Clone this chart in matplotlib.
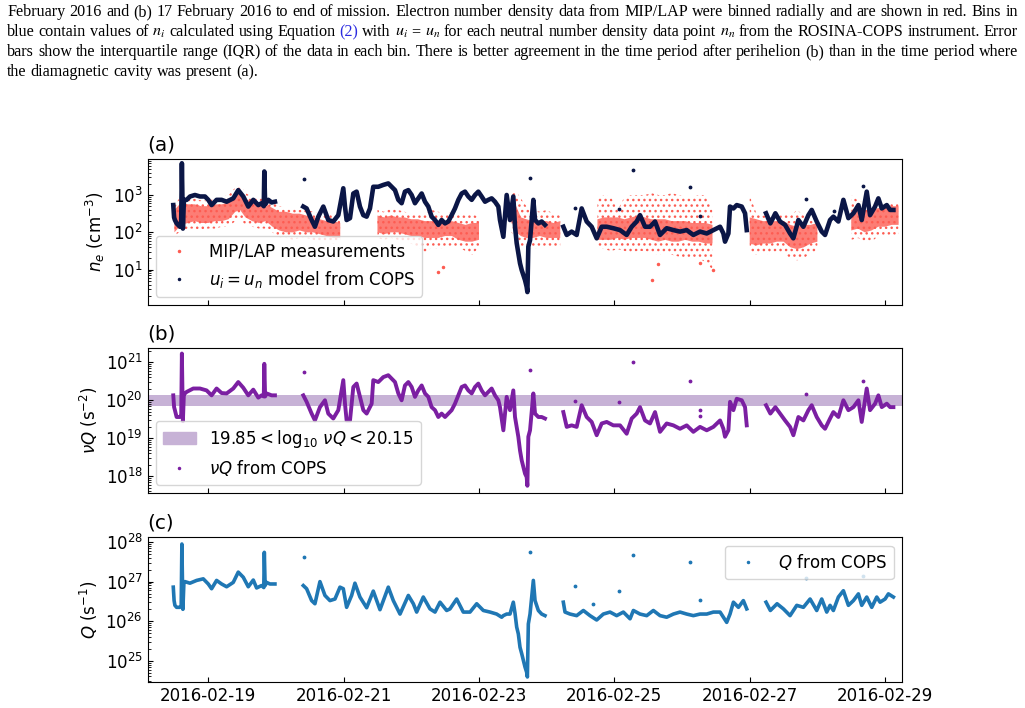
import numpy as np
import matplotlib
matplotlib.use("Agg")
import matplotlib.pyplot as plt
import matplotlib.dates as mdates
import matplotlib.ticker as mticker
from matplotlib.lines import Line2D
from matplotlib.patches import Patch

nan = np.nan

# time axis: days since 2016-02-19 00:00, values are log10 of the plotted quantity
# ---- (a) u_i = u_n model from COPS (cm^-3)
ne_t = [-0.517, -0.505, -0.493, -0.468, -0.42, -0.40, -0.39, -0.375, -0.36, -0.32,
        -0.27, -0.197, -0.123, -0.049, 0.0, 0.049, 0.123, 0.197, 0.271, 0.369,
        0.443, 0.517, 0.591, 0.665, 0.739, 0.788, 0.82, 0.828, 0.84, 0.887,
        0.936, 0.985, 1.2,
        1.404, 1.453, 1.527, 1.576, 1.626, 1.700, 1.773, 1.847, 1.921, 1.995,
        2.020, 2.044, 2.094, 2.143, 2.192, 2.241, 2.291, 2.340, 2.389, 2.438,
        2.512, 2.586, 2.660, 2.709, 2.759, 2.808, 2.857, 2.906, 2.956, 3.005,
        3.054, 3.103, 3.153, 3.202, 3.251, 3.300, 3.350, 3.399, 3.448, 3.498,
        3.547, 3.596, 3.645, 3.695, 3.744, 3.793, 3.842, 3.892, 3.941, 3.990,
        4.039, 4.089, 4.138, 4.187, 4.236, 4.286, 4.310, 4.360, 4.409, 4.458,
        4.507, 4.532, 4.557, 4.581, 4.606, 4.631, 4.655, 4.680, 4.704, 4.715,
        4.729, 4.754, 4.803, 4.828, 4.877, 4.926, 4.975, 5.1,
        5.246, 5.296, 5.369, 5.443, 5.517, 5.591, 5.665, 5.739, 5.813, 5.887,
        5.985, 6.084, 6.182, 6.256, 6.330, 6.379, 6.453, 6.527, 6.601, 6.675,
        6.773, 6.872, 6.970, 7.069, 7.167, 7.266, 7.365, 7.463, 7.562, 7.611,
        7.635, 7.685, 7.709, 7.759, 7.808, 7.882, 7.931, 7.956, 8.1,
        8.241, 8.305, 8.379, 8.448, 8.522, 8.596, 8.645, 8.719, 8.793, 8.867,
        8.916, 8.990, 9.064, 9.113, 9.187, 9.236, 9.310, 9.384, 9.458, 9.532,
        9.606, 9.655, 9.729, 9.778, 9.852, 9.901, 9.951, 10.025, 10.074, 10.123]
ne_log = [2.73, 2.40, 2.33, 2.24, 2.15, 2.30, 3.85, 2.10, 2.87, 2.87,
          2.96, 3.00, 2.96, 2.96, 2.87, 2.73, 2.87, 2.87, 2.82, 2.91,
          3.13, 2.96, 2.69, 2.87, 2.73, 2.78, 2.70, 3.63, 2.75, 2.87,
          2.80, 2.82, nan,
          2.69, 2.64, 2.33, 2.15, 2.42, 2.69, 2.33, 2.29, 2.46, 3.18,
          2.69, 2.33, 2.38, 3.04, 3.09, 2.69, 2.46, 2.42, 2.64, 3.22,
          3.22, 3.27, 3.31, 3.22, 3.13, 2.87, 2.78, 3.09, 3.13, 3.00,
          2.78, 2.91, 3.04, 2.82, 2.69, 2.42, 2.33, 2.20, 2.33, 2.24,
          2.29, 2.46, 2.64, 2.87, 3.04, 3.09, 2.96, 2.87, 3.00, 3.09,
          2.96, 2.82, 2.87, 2.91, 2.82, 2.69, 2.33, 1.88, 3.00, 2.33,
          2.96, 2.15, 1.71, 1.44, 1.17, 0.99, 0.86, 0.72, 0.54, 0.40,
          1.62, 1.79, 2.87, 2.33, 2.24, 2.29, 2.20, nan,
          2.15, 1.93, 2.02, 1.93, 2.64, 2.29, 2.15, 1.84, 2.15, 2.15,
          2.11, 2.06, 1.93, 2.15, 2.29, 2.46, 2.15, 2.15, 2.29, 1.93,
          2.11, 2.06, 2.02, 2.06, 1.93, 2.02, 1.97, 2.06, 2.15, 1.97,
          1.75, 1.97, 2.69, 2.64, 2.73, 2.69, 2.51, 2.06, nan,
          2.51, 2.24, 2.51, 2.29, 2.20, 1.97, 1.84, 2.33, 2.15, 2.46,
          2.60, 2.29, 2.02, 1.93, 2.33, 2.42, 2.29, 2.87, 2.38, 2.51,
          2.73, 2.33, 3.09, 2.46, 2.69, 2.91, 2.64, 2.73, 2.60, 2.60]
ne_out_t = [1.42, 4.76, 6.27, 7.12, 5.42, 6.07, 7.26, 8.83, 9.67, 9.25]
ne_out_log = [3.42, 3.46, 3.68, 3.21, 2.64, 2.62, 2.45, 2.89, 3.24, 2.57]

# ---- (a) MIP/LAP measurements: per time bin, dense core range and full spread
lap_t = [-0.50, -0.40, -0.30, -0.20, -0.10, 0.0, 0.10, 0.20, 0.30, 0.40,
         0.47, 0.55, 0.65, 0.75, 0.85, 0.95, 1.05, 1.15, 1.25, 1.35,
         1.45, 1.55, 1.65, 1.75, 1.85, 1.95, 2.2,
         2.50, 2.60, 2.70, 2.80, 2.90, 3.00, 3.10, 3.20, 3.30, 3.40,
         3.50, 3.60, 3.70, 3.80, 3.90, 4.00, 4.2,
         4.48, 4.55, 4.62, 4.70, 4.80, 4.90, 5.00, 5.10, 5.20, 5.45,
         5.75, 5.85, 5.95, 6.05, 6.15, 6.25, 6.35, 6.45, 6.55, 6.65,
         6.75, 6.85, 6.95, 7.05, 7.15, 7.25, 7.35, 7.45, 7.7,
         8.00, 8.10, 8.20, 8.30, 8.40, 8.50, 8.60, 8.70, 8.80, 8.90,
         9.00, 9.25,
         9.50, 9.60, 9.70, 9.80, 9.90, 10.00, 10.10, 10.20]
lap_lo = [2.00, 2.20, 2.25, 2.30, 2.25, 2.25, 2.30, 2.30, 2.35, 2.55,
          2.60, 2.40, 2.30, 2.25, 2.30, 2.15, 2.05, 2.00, 2.00, 2.05,
          2.00, 2.00, 1.95, 1.90, 1.85, 1.85, nan,
          2.00, 1.95, 2.00, 2.00, 1.95, 1.90, 1.90, 1.85, 1.85, 1.85,
          1.90, 1.90, 1.80, 1.75, 1.75, 1.80, nan,
          2.30, 2.00, 1.90, 1.85, 1.85, 1.90, 1.85, 1.85, 1.85, nan,
          1.80, 1.80, 1.80, 1.85, 1.80, 1.85, 1.85, 1.85, 1.80, 1.75,
          1.80, 1.75, 1.75, 1.80, 1.75, 1.75, 1.70, 1.70, nan,
          1.70, 1.65, 1.70, 1.70, 1.75, 1.75, 1.60, 1.55, 1.60, 1.70,
          1.75, nan,
          2.05, 2.10, 2.00, 2.05, 2.15, 2.15, 2.20, 2.20]
lap_hi = [2.60, 2.80, 2.75, 2.75, 2.70, 2.70, 2.75, 2.75, 2.80, 3.05,
          3.15, 2.90, 2.80, 2.80, 2.75, 2.65, 2.55, 2.55, 2.50, 2.50,
          2.45, 2.40, 2.35, 2.30, 2.30, 2.25, nan,
          2.45, 2.40, 2.45, 2.40, 2.40, 2.35, 2.35, 2.30, 2.30, 2.30,
          2.30, 2.30, 2.25, 2.20, 2.25, 2.25, nan,
          2.90, 2.70, 2.40, 2.35, 2.30, 2.30, 2.30, 2.25, 2.30, nan,
          2.35, 2.40, 2.40, 2.40, 2.35, 2.40, 2.45, 2.40, 2.35, 2.35,
          2.35, 2.30, 2.30, 2.30, 2.25, 2.25, 2.25, 2.20, nan,
          2.40, 2.35, 2.30, 2.30, 2.30, 2.30, 2.20, 2.15, 2.20, 2.20,
          2.25, nan,
          2.60, 2.65, 2.60, 2.60, 2.65, 2.65, 2.70, 2.70]
lap_min = [1.90, 2.05, 2.10, 2.10, 2.05, 2.10, 2.10, 2.15, 2.15, 2.30,
           2.35, 2.20, 2.15, 2.10, 2.10, 2.00, 1.85, 1.85, 1.80, 1.85,
           1.85, 1.80, 1.75, 1.75, 1.70, 1.75, nan,
           1.85, 1.80, 1.85, 1.80, 1.75, 1.70, 1.60, 1.45, 1.60, 1.55,
           1.60, 1.65, 1.60, 1.50, 1.40, 1.60, nan,
           2.00, 1.80, 1.60, 1.60, 1.55, 1.60, 1.65, 1.60, 1.60, nan,
           1.60, 1.55, 1.50, 1.55, 1.50, 1.45, 1.50, 1.50, 1.45, 1.40,
           1.45, 1.40, 1.35, 1.30, 1.35, 1.30, 1.20, 1.00, nan,
           1.50, 1.40, 1.45, 1.40, 1.50, 1.45, 1.30, 1.25, 1.30, 1.45,
           1.50, nan,
           1.80, 1.85, 1.75, 1.75, 1.90, 1.90, 1.95, 1.90]
lap_max = [2.70, 3.00, 2.95, 2.90, 2.85, 2.85, 2.90, 2.95, 3.00, 3.20,
           3.27, 3.05, 2.95, 2.95, 2.90, 2.80, 2.70, 2.65, 2.65, 2.60,
           2.60, 2.55, 2.50, 2.50, 2.45, 2.40, nan,
           2.60, 2.55, 2.65, 2.60, 2.55, 2.50, 2.50, 2.50, 2.60, 2.55,
           2.50, 2.55, 2.50, 2.45, 2.50, 2.40, nan,
           3.10, 3.10, 2.90, 2.70, 2.60, 2.55, 2.60, 2.50, 2.45, nan,
           2.90, 3.00, 2.95, 2.60, 2.95, 3.00, 3.00, 3.00, 3.05, 3.00,
           3.00, 3.05, 3.00, 2.95, 2.95, 3.00, 3.00, 2.65, nan,
           3.00, 2.50, 2.45, 2.40, 2.40, 2.50, 2.45, 2.60, 2.45, 2.40,
           2.40, nan,
           3.00, 2.85, 2.80, 2.75, 2.80, 2.75, 2.80, 2.75]
lap_out_t = [3.40, 3.47, 6.55, 6.64, 7.27, 7.46]
lap_out_log = [0.95, 1.08, 0.72, 1.14, 1.17, 0.99]

# ---- (b) nu*Q from COPS (s^-2)
nuq_t = [-0.517, -0.505, -0.493, -0.468, -0.42, -0.40, -0.39, -0.375, -0.36, -0.345,
         -0.320, -0.222, -0.123, -0.025, 0.049, 0.123, 0.197, 0.271, 0.369, 0.443,
         0.517, 0.591, 0.665, 0.739, 0.788, 0.82, 0.828, 0.84, 0.862, 0.936,
         0.985, 1.2,
         1.404, 1.453, 1.527, 1.576, 1.650, 1.724, 1.773, 1.847, 1.921, 1.995,
         2.020, 2.044, 2.094, 2.143, 2.192, 2.241, 2.291, 2.340, 2.414, 2.438,
         2.512, 2.586, 2.660, 2.709, 2.759, 2.808, 2.857, 2.906, 2.956, 3.005,
         3.054, 3.103, 3.153, 3.202, 3.251, 3.300, 3.350, 3.399, 3.448, 3.498,
         3.547, 3.596, 3.645, 3.695, 3.744, 3.793, 3.842, 3.892, 3.941, 3.990,
         4.039, 4.089, 4.138, 4.187, 4.236, 4.286, 4.310, 4.360, 4.409, 4.458,
         4.507, 4.532, 4.557, 4.581, 4.606, 4.631, 4.655, 4.680, 4.704, 4.715,
         4.729, 4.754, 4.803, 4.828, 4.877, 4.926, 4.975, 5.1,
         5.246, 5.296, 5.369, 5.443, 5.517, 5.591, 5.665, 5.739, 5.813, 5.887,
         5.985, 6.084, 6.182, 6.256, 6.330, 6.379, 6.453, 6.527, 6.601, 6.675,
         6.773, 6.872, 6.970, 7.069, 7.167, 7.266, 7.365, 7.463, 7.562, 7.611,
         7.635, 7.685, 7.709, 7.759, 7.808, 7.882, 7.931, 7.956, 8.1,
         8.241, 8.305, 8.379, 8.448, 8.522, 8.596, 8.645, 8.719, 8.793, 8.867,
         8.916, 8.990, 9.064, 9.113, 9.187, 9.236, 9.310, 9.384, 9.458, 9.532,
         9.606, 9.655, 9.729, 9.778, 9.852, 9.901, 9.951, 10.025, 10.074, 10.123]
nuq_log = [20.13, 19.82, 19.74, 19.56, 19.56, 19.60, 21.23, 19.45, 20.18, 20.18,
           20.22, 20.31, 20.31, 20.26, 20.13, 20.31, 20.19, 20.18, 20.31, 20.48,
           20.33, 20.13, 20.28, 20.07, 20.13, 20.10, 20.96, 20.10, 20.18, 20.13,
           20.13, nan,
           20.13, 19.96, 19.65, 19.47, 19.82, 20.00, 19.65, 19.52, 19.74, 20.53,
           19.91, 19.47, 19.47, 20.35, 20.44, 20.09, 19.74, 19.65, 19.91, 20.53,
           20.48, 20.61, 20.66, 20.57, 20.48, 20.18, 20.00, 20.39, 20.48, 20.35,
           20.09, 20.26, 20.39, 20.18, 20.09, 19.82, 19.74, 19.56, 19.65, 19.56,
           19.65, 19.74, 19.91, 20.13, 20.35, 20.39, 20.26, 20.18, 20.35, 20.44,
           20.26, 20.13, 20.22, 20.31, 20.13, 20.00, 19.82, 19.21, 20.09, 19.74,
           20.26, 19.56, 19.30, 19.04, 18.68, 18.42, 18.25, 18.07, 17.98, 17.75,
           19.04, 19.21, 20.18, 19.65, 19.56, 19.56, 19.52, nan,
           19.69, 19.30, 19.34, 19.30, 19.87, 19.56, 19.43, 19.08, 19.39, 19.43,
           19.34, 19.34, 19.12, 19.52, 19.65, 19.82, 19.47, 19.39, 19.69, 19.17,
           19.39, 19.34, 19.25, 19.34, 19.17, 19.30, 19.21, 19.30, 19.47, 19.25,
           19.04, 19.21, 19.96, 19.74, 20.04, 20.00, 19.82, 19.34, nan,
           19.87, 19.65, 19.82, 19.65, 19.47, 19.30, 19.08, 19.56, 19.47, 19.74,
           19.87, 19.56, 19.34, 19.25, 19.52, 19.69, 19.56, 20.00, 19.74, 19.82,
           20.00, 19.43, 20.31, 19.74, 19.91, 20.13, 19.82, 19.91, 19.82, 19.82]
nuq_out_t = [1.42, 4.76, 6.27, 7.12, 5.42, 6.07, 7.26, 7.26, 8.83, 9.67]
nuq_out_log = [20.75, 20.81, 21.01, 20.52, 19.97, 19.96, 19.74, 19.58, 20.16, 20.50]
band_lo, band_hi = 19.85, 20.15

# ---- (c) Q from COPS (s^-1)
q_t = [-0.517, -0.505, -0.493, -0.468, -0.42, -0.40, -0.39, -0.375, -0.36, -0.345,
       -0.271, -0.172, -0.074, 0.0, 0.049, 0.123, 0.197, 0.271, 0.369, 0.443,
       0.517, 0.591, 0.665, 0.714, 0.788, 0.82, 0.828, 0.84, 0.862, 0.911,
       0.985, 1.2,
       1.404, 1.453, 1.527, 1.576, 1.650, 1.724, 1.798, 1.872, 1.946, 1.995,
       2.044, 2.118, 2.167, 2.241, 2.340, 2.438, 2.537, 2.660, 2.734, 2.833,
       2.956, 3.030, 3.079, 3.177, 3.276, 3.350, 3.424, 3.522, 3.571, 3.670,
       3.768, 3.867, 3.966, 4.064, 4.163, 4.261, 4.335, 4.360, 4.409, 4.458,
       4.507, 4.532, 4.557, 4.581, 4.606, 4.631, 4.655, 4.680, 4.704, 4.715,
       4.729, 4.754, 4.803, 4.828, 4.877, 4.926, 4.975, 5.1,
       5.246, 5.271, 5.345, 5.443, 5.542, 5.640, 5.739, 5.837, 5.936, 6.034,
       6.133, 6.232, 6.281, 6.379, 6.478, 6.576, 6.675, 6.773, 6.872, 6.970,
       7.069, 7.167, 7.266, 7.365, 7.463, 7.562, 7.611, 7.660, 7.709, 7.759,
       7.833, 7.906, 7.956, 8.1,
       8.241, 8.305, 8.404, 8.498, 8.596, 8.695, 8.793, 8.892, 8.990, 9.064,
       9.138, 9.187, 9.236, 9.310, 9.384, 9.458, 9.532, 9.606, 9.655, 9.729,
       9.803, 9.877, 9.926, 10.0, 10.049, 10.123]
q_log = [26.86, 26.52, 26.40, 26.35, 26.35, 26.40, 27.95, 26.30, 26.98, 27.00,
         26.96, 27.03, 27.07, 26.94, 26.82, 27.03, 26.94, 26.87, 26.98, 27.24,
         27.11, 26.87, 27.04, 26.84, 26.90, 26.85, 27.74, 26.90, 26.98, 26.94,
         26.94, nan,
         26.90, 26.82, 26.52, 26.44, 27.00, 26.65, 26.52, 26.56, 26.86, 26.82,
         26.35, 26.65, 26.96, 26.61, 26.34, 26.76, 26.29, 26.86, 26.52, 26.18,
         26.65, 26.44, 26.23, 26.61, 26.31, 26.23, 26.48, 26.27, 26.31, 26.56,
         26.23, 26.23, 26.44, 26.27, 26.23, 26.18, 26.10, 26.14, 26.18, 26.18,
         26.48, 26.20, 25.85, 25.68, 25.34, 25.18, 25.01, 24.84, 24.71, 24.59,
         25.93, 26.18, 27.03, 26.52, 26.27, 26.18, 26.14, nan,
         26.48, 26.23, 26.18, 26.14, 26.27, 26.14, 26.03, 26.18, 26.23, 26.14,
         26.23, 26.06, 26.27, 26.18, 26.14, 26.27, 26.14, 26.10, 26.18, 26.23,
         26.18, 26.14, 26.18, 26.18, 26.23, 26.23, 26.10, 25.97, 26.18, 26.48,
         26.35, 26.52, 26.31, nan,
         26.48, 26.27, 26.44, 26.31, 26.14, 26.40, 26.35, 26.56, 26.27, 26.56,
         26.23, 26.40, 26.27, 26.61, 26.77, 26.40, 26.52, 26.69, 26.40, 26.61,
         26.35, 26.61, 26.48, 26.56, 26.69, 26.61]
q_out_t = [1.42, 4.76, 6.27, 7.12, 5.42, 6.07, 7.26, 8.83, 9.67, 5.69]
q_out_log = [27.61, 27.76, 27.66, 27.50, 26.89, 26.77, 26.54, 27.08, 27.14, 26.44]

caption = [
    "February 2016 and (b) 17 February 2016 to end of mission. Electron number density data from MIP/LAP were binned radially and are shown in red. Bins in",
    "blue contain values of $n_i$ calculated using Equation (2) with $u_i$ = $u_n$ for each neutral number density data point $n_n$ from the ROSINA-COPS instrument. Error",
    "bars show the interquartile range (IQR) of the data in each bin. There is better agreement in the time period after perihelion (b) than in the time period where",
    "the diamagnetic cavity was present (a).",
]

RED = "#fd5c52"
NAVY = "#0b1646"
PURPLE = "#7b1fa2"
BAND = "#c7b2d6"
QBLUE = "#1f77b4"

W, H = 1025, 708
plt.rcParams["font.size"] = 12
plt.rcParams["hatch.linewidth"] = 1.0
fig = plt.figure(figsize=(W / 100, H / 100), dpi=100)

base = mdates.date2num(np.datetime64("2016-02-19T00:00"))


def tx(t):
    return base + np.asarray(t, dtype=float)


def ex(v):
    return 10 ** np.asarray(v, dtype=float)


left, width = 147.7 / W, (902 - 147.7) / W
panels = [(159, 305), (348, 493), (537.3, 681.7)]
axes = []
for top, bot in panels:
    ax = fig.add_axes([left, 1 - bot / H, width, (bot - top) / H],
                      sharex=axes[0] if axes else None)
    axes.append(ax)
ax1, ax2, ax3 = axes

# (a)
ok = np.isfinite(np.array(lap_lo))
ax1.fill_between(tx(lap_t), ex(lap_min), ex(lap_max), where=ok,
                 facecolor="none", edgecolor=RED, hatch="...", lw=0, zorder=1)
ax1.fill_between(tx(lap_t), ex(lap_lo), ex(lap_hi), where=ok,
                 facecolor=RED, alpha=0.8, lw=0, zorder=1)
ax1.plot(tx(lap_out_t), ex(lap_out_log), ".", color=RED, ms=3, zorder=1)
ax1.plot(tx(ne_t), ex(ne_log), "-", color=NAVY, lw=3.3, zorder=3,
         solid_joinstyle="round")
ax1.plot(tx(ne_out_t), ex(ne_out_log), ".", color=NAVY, ms=3.5, zorder=3)
ax1.set_ylim(10 ** 0.054, 10 ** 3.964)
ax1.set_ylabel(r"$n_e$ (cm$^{-3}$)")
ax1.set_title("(a)", loc="left")
ax1.legend(handles=[
    Line2D([], [], ls="", marker=".", ms=3, color=RED, label="MIP/LAP measurements"),
    Line2D([], [], ls="", marker=".", ms=3, color=NAVY, label=r"$u_i = u_n$ model from COPS"),
], loc="lower left")

# (b)
ax2.axhspan(ex(band_lo), ex(band_hi), color=BAND, lw=0, zorder=1)
ax2.plot(tx(nuq_t), ex(nuq_log), "-", color=PURPLE, lw=2.8, zorder=3,
         solid_joinstyle="round")
ax2.plot(tx(nuq_out_t), ex(nuq_out_log), ".", color=PURPLE, ms=3.5, zorder=3)
ax2.set_ylim(10 ** 17.56, 10 ** 21.376)
ax2.set_ylabel(r"$\nu Q$ (s$^{-2}$)")
ax2.set_title("(b)", loc="left")
ax2.legend(handles=[
    Patch(color=BAND, label=r"$19.85 < \log_{10}\,\nu Q < 20.15$"),
    Line2D([], [], ls="", marker=".", ms=3, color=PURPLE, label=r"$\nu Q$ from COPS"),
], loc="lower left")

# (c)
ax3.plot(tx(q_t), ex(q_log), "-", color=QBLUE, lw=2.6, zorder=3,
         solid_joinstyle="round")
ax3.plot(tx(q_out_t), ex(q_out_log), ".", color=QBLUE, ms=3.5, zorder=3)
ax3.set_ylim(10 ** 24.47, 10 ** 28.12)
ax3.set_ylabel(r"$Q$ (s$^{-1}$)")
ax3.set_title("(c)", loc="left")
ax3.legend(handles=[
    Line2D([], [], ls="", marker=".", ms=3, color=QBLUE, label=r"$Q$ from COPS"),
], loc="upper right")

for ax in axes:
    ax.set_yscale("log")
    ax.yaxis.set_major_locator(mticker.LogLocator(base=10, numticks=20))
    ax.yaxis.set_minor_locator(mticker.LogLocator(base=10, subs=np.arange(2, 10), numticks=100))
    ax.yaxis.set_minor_formatter(mticker.NullFormatter())
    ax.tick_params(which="both", direction="in", top=False, right=False)
ax3.set_xlim(tx(-0.895), tx(10.25))
ax3.xaxis.set_major_locator(mdates.DayLocator(bymonthday=range(1, 32, 2)))
ax3.xaxis.set_major_formatter(mdates.DateFormatter("%Y-%m-%d"))
ax1.tick_params(labelbottom=False)
ax2.tick_params(labelbottom=False)

# caption text above the figure, justified like the page
r = fig.canvas.get_renderer()
x0, x1 = 7, 1018
cap_kw = dict(family="Liberation Serif", va="baseline", math_fontfamily="stix")

# pick the size at which the widest full line just fits with plain spaces
sizes = []
for line in caption[:-1]:
    probe = fig.text(0, 0, line, fontsize=10, **cap_kw)
    sizes.append(10 * (x1 - x0) / probe.get_window_extent(r).width)
    probe.remove()
cap_size = min(sizes)

for i, line in enumerate(caption):
    y = 1 - (16.5 + 19.8 * i) / H
    words = line.split(" ")
    texts = []
    for w in words:
        col = "#2a2ae0" if w == "(2)" else "black"
        texts.append(fig.text(0, y, w, fontsize=cap_size, color=col, **cap_kw))
    widths = [t.get_window_extent(r).width for t in texts]
    if i < len(caption) - 1:
        gap = (x1 - x0 - sum(widths)) / (len(words) - 1)
    else:
        gap = 0.25 * cap_size * 100 / 72
    x = x0
    for t, w in zip(texts, widths):
        t.set_x(x / W)
        x += w + gap

fig.savefig("out.png", dpi=100)
